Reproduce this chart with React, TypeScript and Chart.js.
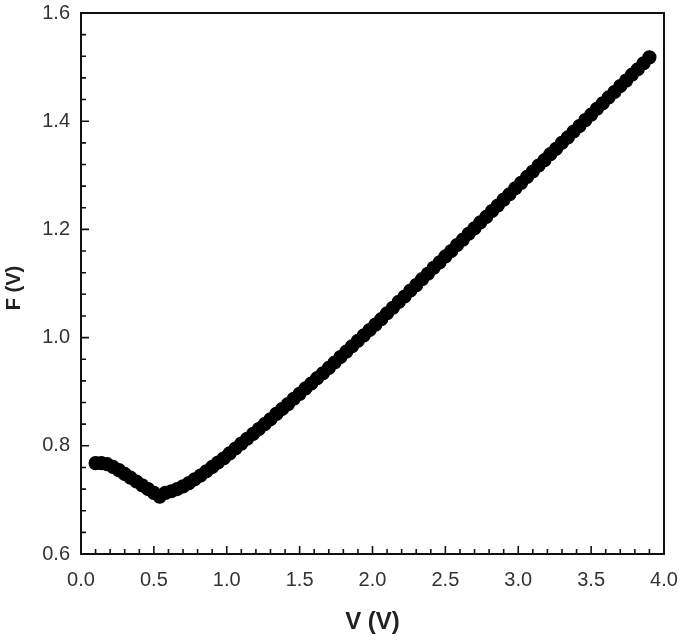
import { useEffect, useRef } from 'react';
import { Chart, registerables } from 'chart.js';

Chart.register(...registerables);

const voltage = [
  0.10, 0.14, 0.18, 0.22, 0.26, 0.30, 0.34, 0.38, 0.42, 0.46,
  0.50, 0.54, 0.58, 0.62, 0.66, 0.70, 0.74, 0.78, 0.82, 0.86,
  0.90, 0.94, 0.98, 1.02, 1.06, 1.10, 1.14, 1.18, 1.22, 1.26,
  1.30, 1.34, 1.38, 1.42, 1.46, 1.50, 1.54, 1.58, 1.62, 1.66,
  1.70, 1.74, 1.78, 1.82, 1.86, 1.90, 1.94, 1.98, 2.02, 2.06,
  2.10, 2.14, 2.18, 2.22, 2.26, 2.30, 2.34, 2.38, 2.42, 2.46,
  2.50, 2.54, 2.58, 2.62, 2.66, 2.70, 2.74, 2.78, 2.82, 2.86,
  2.90, 2.94, 2.98, 3.02, 3.06, 3.10, 3.14, 3.18, 3.22, 3.26,
  3.30, 3.34, 3.38, 3.42, 3.46, 3.50, 3.54, 3.58, 3.62, 3.66,
  3.70, 3.74, 3.78, 3.82, 3.86, 3.90,
];

const forward = [
  0.768, 0.768, 0.766, 0.761, 0.755, 0.748, 0.741, 0.734, 0.727, 0.720,
  0.713, 0.706, 0.713, 0.716, 0.720, 0.725, 0.731, 0.738, 0.745, 0.753,
  0.761, 0.769, 0.777, 0.786, 0.795, 0.804, 0.813, 0.822, 0.831, 0.840,
  0.849, 0.859, 0.868, 0.877, 0.887, 0.896, 0.906, 0.915, 0.925, 0.934,
  0.944, 0.954, 0.964, 0.974, 0.984, 0.994, 1.004, 1.014, 1.024, 1.034,
  1.045, 1.055, 1.066, 1.076, 1.087, 1.097, 1.108, 1.118, 1.129, 1.139,
  1.150, 1.160, 1.171, 1.181, 1.192, 1.202, 1.213, 1.223, 1.234, 1.244,
  1.255, 1.265, 1.276, 1.286, 1.297, 1.307, 1.318, 1.328, 1.339, 1.349,
  1.360, 1.370, 1.381, 1.391, 1.402, 1.412, 1.423, 1.433, 1.444, 1.454,
  1.465, 1.475, 1.486, 1.496, 1.507, 1.518,
];

const xMajorTicks = [0, 0.5, 1.0, 1.5, 2.0, 2.5, 3.0, 3.5, 4.0];
const yMajorTicks = [0.6, 0.8, 1.0, 1.2, 1.4, 1.6];
const xTitle = 'V (V)';
const yTitle = 'F (V)';

const FONT = '"Liberation Sans", Arial, sans-serif';
const AXIS_COLOR = '#111111';
const TEXT_COLOR = '#333333';

export default function App() {
  const ref = useRef<HTMLCanvasElement>(null);

  useEffect(() => {
    document.body.style.margin = '0';
    const canvas = ref.current;
    if (!canvas) return;

    const framePlugin = {
      id: 'frameTicks',
      afterDraw(chart: any) {
        const { ctx, chartArea } = chart;
        const xs = chart.scales.x;
        const ys = chart.scales.y;
        const { left, right, top, bottom } = chartArea;
        ctx.save();
        ctx.strokeStyle = AXIS_COLOR;
        ctx.lineWidth = 2;
        ctx.beginPath();
        ctx.rect(left, top, right - left, bottom - top);
        ctx.stroke();

        ctx.lineWidth = 1.6;
        ctx.beginPath();
        for (let i = 0; i <= 40; i++) {
          const v = i / 10;
          const px = xs.getPixelForValue(v);
          const len = i % 5 === 0 ? 8 : 5;
          ctx.moveTo(px, bottom);
          ctx.lineTo(px, bottom - len);
        }
        for (let i = 0; i <= 25; i++) {
          const v = 0.6 + i * 0.04;
          const py = ys.getPixelForValue(v);
          const len = i % 5 === 0 ? 8 : 5;
          ctx.moveTo(left, py);
          ctx.lineTo(left + len, py);
        }
        ctx.stroke();

        ctx.fillStyle = '#222222';
        ctx.font = `bold 24px ${FONT}`;
        ctx.textAlign = 'center';
        ctx.textBaseline = 'middle';
        ctx.fillText(xTitle, (left + right) / 2, 622);

        ctx.translate(14, 288);
        ctx.rotate(-Math.PI / 2);
        ctx.font = `bold 20px ${FONT}`;
        ctx.fillText(yTitle, 0, 0);
        ctx.restore();
      },
    };

    const noPad = (scale: any) => {
      scale.paddingTop = 0;
      scale.paddingBottom = 0;
      scale.paddingLeft = 0;
      scale.paddingRight = 0;
    };

    const chart = new Chart(canvas, {
      type: 'scatter',
      data: {
        datasets: [
          {
            data: voltage.map((v, i) => ({ x: v, y: forward[i] })),
            showLine: false,
            pointRadius: 6.5,
            pointBorderWidth: 1.2,
            pointBackgroundColor: '#000000',
            pointBorderColor: '#000000',
            pointHoverRadius: 6.5,
          },
        ],
      },
      options: {
        responsive: false,
        animation: false,
        events: [],
        layout: { padding: { top: 13, right: 21, left: 0, bottom: 0 } },
        plugins: {
          legend: { display: false },
          tooltip: { enabled: false },
        },
        scales: {
          x: {
            type: 'linear',
            min: 0,
            max: 4,
            afterBuildTicks: (scale: any) => {
              scale.ticks = xMajorTicks.map((v) => ({ value: v }));
            },
            afterFit: (scale: any) => {
              scale.height = 88;
              noPad(scale);
            },
            grid: { display: false, drawTicks: false },
            border: { display: false },
            ticks: {
              padding: 14,
              color: TEXT_COLOR,
              font: { family: FONT, size: 20 },
              callback: (v: any) => Number(v).toFixed(1),
            },
          },
          y: {
            type: 'linear',
            min: 0.6,
            max: 1.6,
            afterBuildTicks: (scale: any) => {
              scale.ticks = yMajorTicks.map((v) => ({ value: v }));
            },
            afterFit: (scale: any) => {
              scale.width = 81;
              noPad(scale);
            },
            grid: { display: false, drawTicks: false },
            border: { display: false },
            ticks: {
              padding: 11,
              color: TEXT_COLOR,
              font: { family: FONT, size: 20 },
              callback: (v: any) => Number(v).toFixed(1),
            },
          },
        },
      },
      plugins: [framePlugin],
    });

    return () => chart.destroy();
  }, []);

  return (
    <div style={{ width: 685, height: 642 }}>
      <canvas ref={ref} width={685} height={642} style={{ display: 'block' }} />
    </div>
  );
}
